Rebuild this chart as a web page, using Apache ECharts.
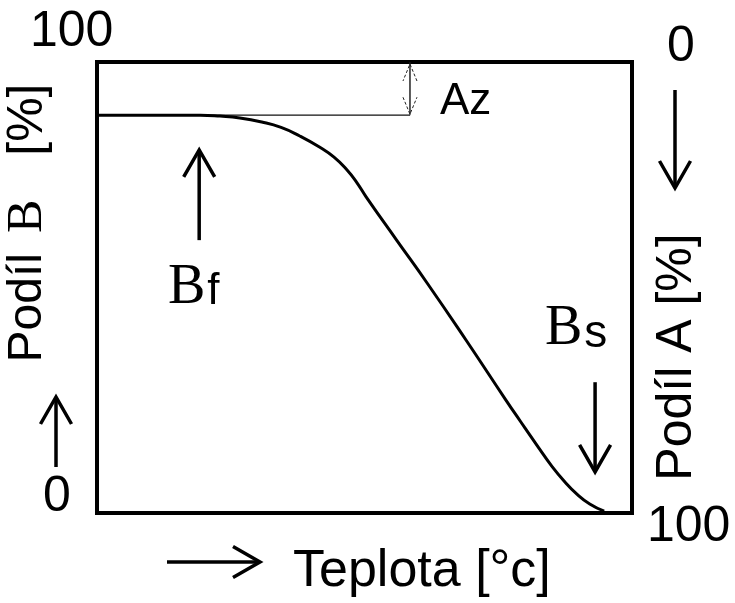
<!DOCTYPE html>
<html>
<head>
<meta charset="utf-8">
<script src="https://cdn.jsdelivr.net/npm/echarts@6/dist/echarts.min.js"></script>
<style>
  html, body { margin: 0; padding: 0; background: #fff; }
  #chart { width: 735px; height: 603px; }
</style>
</head>
<body>
<div id="chart"></div>
<script>
// temperature across the frame (0..100) and share of B [%]
const temps  = [0, 10, 19.3, 23.0, 26.7, 30.8, 34.4, 37.9, 41.5, 44.3, 46.7, 48.6, 50.3, 56.0, 61.7, 69.0, 76.4,
                79.1, 82.6, 85.0, 87.3, 89.7, 92.1, 94.8];
const shareB = [88.2, 88.2, 88.2, 88.0, 87.6, 86.7, 85.5, 83.6, 81.2, 78.9, 76.1, 73.2, 70.1, 60.5, 51.0, 38.3, 25.1,
                20.4, 14.4, 10.4, 7.1, 4.2, 2.0, 0.4];

// only the ends of both axes are labelled
const leftTicks  = { 0: '0', 100: '100' };   // Podíl B [%]
const rightTicks = { 0: '0', 100: '100' };   // Podíl A [%], runs top-down

const SANS  = "'Liberation Sans', Arial, sans-serif";
const SERIF = "'Liberation Serif', 'Times New Roman', serif";
const INK = '#000';

const chart = echarts.init(document.getElementById('chart'));

chart.setOption({
    backgroundColor: '#fff',
    animation: false,
    grid: {
        left: 97, right: 103, top: 62, bottom: 90,
        show: true, borderColor: INK, borderWidth: 4, backgroundColor: 'transparent'
    },
    xAxis: {
        type: 'value', min: 0, max: 100,
        axisLine: { show: false, onZero: false },
        axisTick: { show: false },
        axisLabel: { show: false },
        splitLine: { show: false }
    },
    yAxis: [
        {
            type: 'value', min: 0, max: 100, interval: 100, position: 'left',
            axisLine: { show: false, onZero: false },
            axisTick: { show: false },
            splitLine: { show: false },
            axisLabel: {
                margin: 67, align: 'left', verticalAlign: 'middle',
                formatter: v => (v === 100 ? '{hi|' : '{lo|') + leftTicks[v] + '}',
                rich: {
                    hi: { fontFamily: SANS, fontSize: 50, color: INK, padding: [0, 0, 60, 0] },
                    lo: { fontFamily: SANS, fontSize: 50, color: INK, padding: [0, 0, 32, 13] }
                }
            }
        },
        {
            type: 'value', min: 0, max: 100, interval: 100, position: 'right', inverse: true,
            axisLine: { show: false, onZero: false },
            axisTick: { show: false },
            splitLine: { show: false },
            axisLabel: {
                margin: 15, align: 'left', verticalAlign: 'middle',
                formatter: v => (v === 0 ? '{top|' : '{bot|') + rightTicks[v] + '}',
                rich: {
                    top: { fontFamily: SANS, fontSize: 50, color: INK, padding: [0, 0, 30, 20] },
                    bot: { fontFamily: SANS, fontSize: 50, color: INK, padding: [28, 0, 0, 0] }
                }
            }
        }
    ],
    series: [{
        type: 'line',
        data: temps.map((t, i) => [t, shareB[i]]),
        smooth: 0.5,
        showSymbol: false,
        lineStyle: { color: INK, width: 3 },
        z: 3
    }]
});

// annotations: arrows and labels
const px = (x, y) => chart.convertToPixel({ xAxisIndex: 0, yAxisIndex: 0 }, [x, y]);

function arrow(p1, p2, head, spread, lw, color, dash) {
    const dx = p2[0] - p1[0], dy = p2[1] - p1[1];
    const len = Math.hypot(dx, dy);
    const ux = dx / len, uy = dy / len, nx = -uy, ny = ux;
    const bx = p2[0] - ux * head, by = p2[1] - uy * head;
    const c = color || INK;
    return [
        { type: 'line', shape: { x1: p1[0], y1: p1[1], x2: p2[0], y2: p2[1] },
          style: { stroke: c, lineWidth: lw }, z: 10 },
        { type: 'polyline',
          shape: { points: [[bx + nx * spread / 2, by + ny * spread / 2], [p2[0], p2[1]], [bx - nx * spread / 2, by - ny * spread / 2]] },
          style: { stroke: c, lineWidth: lw, fill: null, lineJoin: 'miter', lineDash: dash || null }, z: 10 }
    ];
}

function label(x, y, text, rich, opts) {
    return Object.assign({
        type: 'text', x: x, y: y, z: 10,
        style: { text: text, rich: rich, fill: INK, align: 'left', verticalAlign: 'middle' }
    }, opts || {});
}

const plateau = shareB[0];
const azX = 58.5;
const azTop = px(azX, 100), azBot = px(azX, plateau);

const elements = [
    // thin level line of the plateau and the Az gap
    { type: 'line', shape: { x1: px(0, plateau)[0], y1: azBot[1], x2: azBot[0], y2: azBot[1] },
      style: { stroke: '#111', lineWidth: 1.2 }, z: 2 },
    ...arrow(azBot, [azTop[0], azTop[1] + 2], 17, 14, 1, '#222', [3, 2]),
    ...arrow(azTop, [azBot[0], azBot[1] - 1], 17, 14, 1, '#222', [3, 2]),

    // Bf and Bs markers
    ...arrow(px(19.1, 60.5), px(19.1, 80.5), 27, 31, 3.5),
    ...arrow(px(93.1, 29.0), px(93.1, 9.1), 27, 31, 3.5),

    // direction arrows next to the axis titles
    ...arrow([56, 467], [56, 397], 27, 31, 3.5),
    ...arrow([675, 90], [675, 188], 27, 31, 3.5),
    ...arrow([167, 562], [260, 562], 27, 31, 3.5),

    label(168, 288, '{b|B}{s|f}', {
        b: { fontFamily: SERIF, fontSize: 56, color: INK },
        s: { fontFamily: SANS, fontSize: 44, color: INK, padding: [8, 0, 0, 2] }
    }),
    label(545, 329, '{b|B}{s|s}', {
        b: { fontFamily: SERIF, fontSize: 56, color: INK },
        s: { fontFamily: SANS, fontSize: 46, color: INK, padding: [10, 0, 0, 2] }
    }),
    label(440, 102, '{s|Az}', { s: { fontFamily: SANS, fontSize: 44, color: INK } }),
    label(293, 572, '{s|Teplota [°c]}', { s: { fontFamily: SANS, fontSize: 52, color: INK } }),

    label(28, 223, '{s|Podíl}{b|B}{p|[%]}', {
        s: { fontFamily: SANS, fontSize: 48, color: INK },
        b: { fontFamily: SERIF, fontSize: 50, color: INK, padding: [0, 0, 0, 20] },
        p: { fontFamily: SANS, fontSize: 50, color: INK, padding: [0, 0, 0, 44] }
    }, { rotation: Math.PI / 2 }),
    label(677, 357, '{s|Podíl A [%]}', {
        s: { fontFamily: SANS, fontSize: 50, color: INK }
    }, { rotation: Math.PI / 2 })
];
elements[elements.length - 1].style.align = 'center';
elements[elements.length - 2].style.align = 'center';

chart.setOption({ graphic: { elements: elements } });
</script>
</body>
</html>
